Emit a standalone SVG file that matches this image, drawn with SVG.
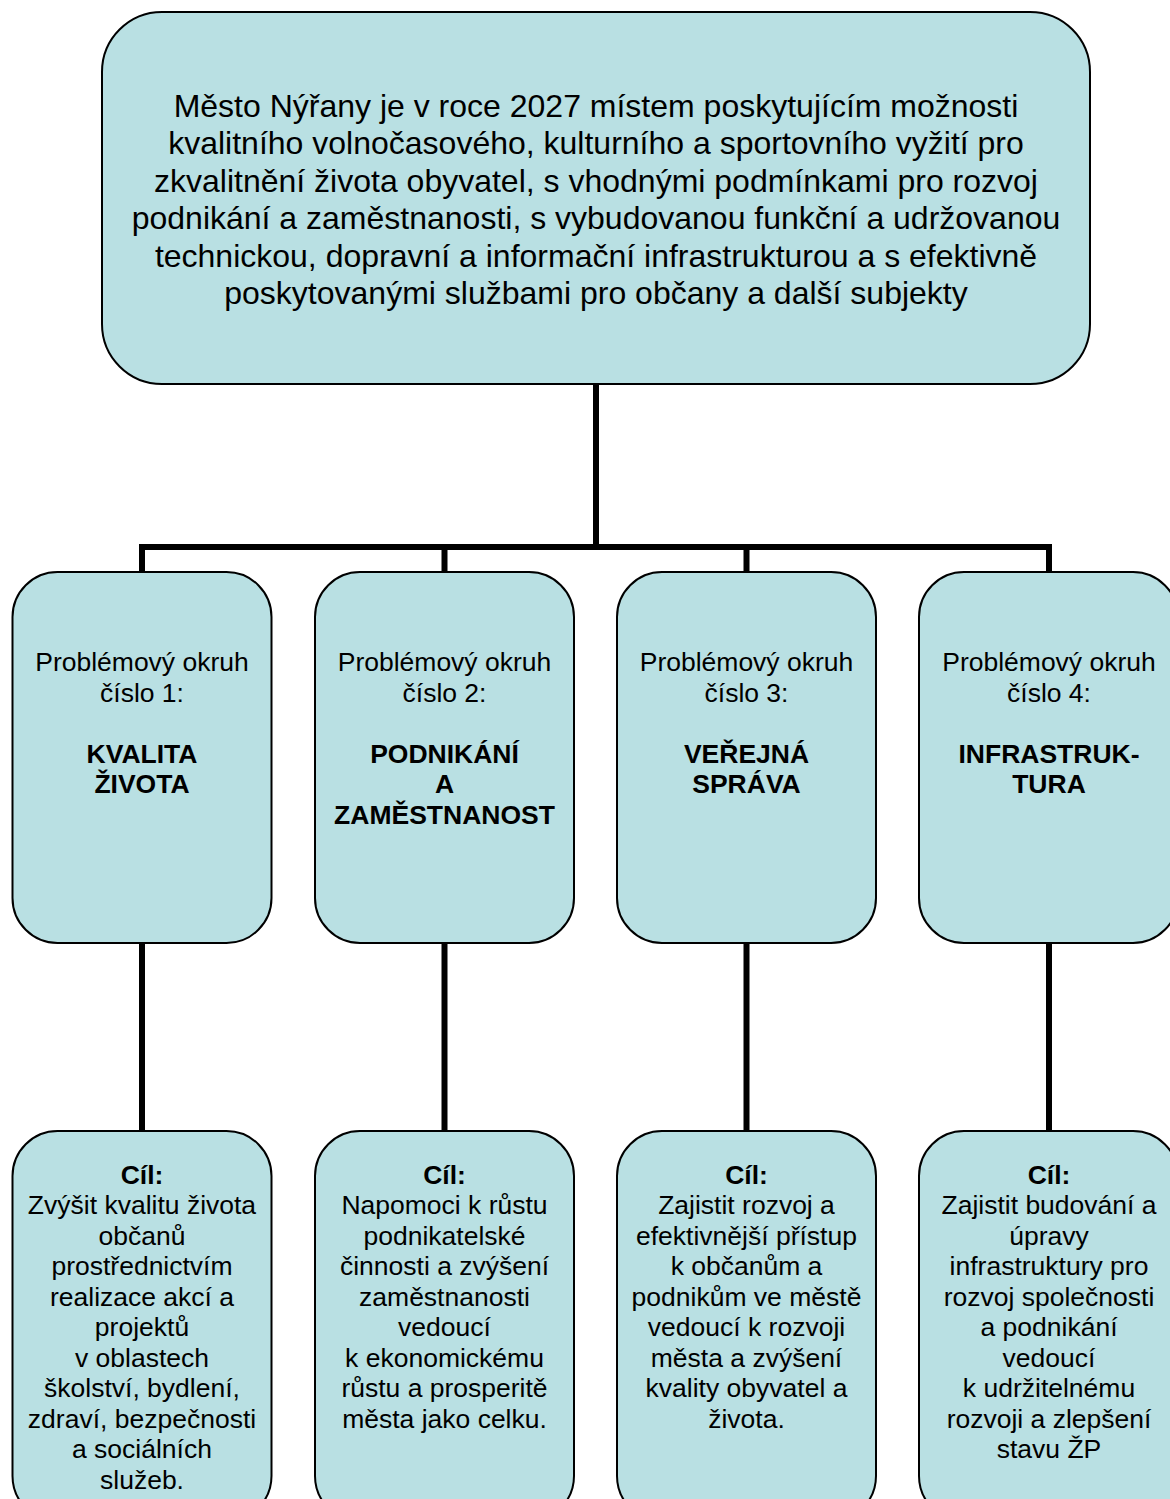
<svg xmlns="http://www.w3.org/2000/svg" width="1170" height="1499" viewBox="0 0 1170 1499">
<style>
.box{fill:#B9E0E3;stroke:#000;stroke-width:2}
.t{font-family:"Liberation Sans",Arial,sans-serif;fill:#000;text-anchor:middle}
.big{font-size:32px}
.mid{font-size:26.5px}
.b{font-weight:bold}
.con{fill:none;stroke:#000;stroke-width:6}
</style>
<rect width="1170" height="1499" fill="#fff"/>
<g id="connectors">
<path class="con" d="M596 384V547"/>
<path class="con" d="M142 547H1049"/>
<path class="con" d="M142 544V572M444.5 544V572M746.5 544V572M1049 544V572"/>
<path class="con" d="M142 943V1131M444.5 943V1131M746.5 943V1131M1049 943V1131"/>
</g>
<g id="vision">
<rect class="box" x="102" y="12" width="988" height="372" rx="60" ry="60"/>
<text class="t big" x="596" y="116.5">Město Nýřany je v roce 2027 místem poskytujícím možnosti</text>
<text class="t big" x="596" y="154">kvalitního volnočasového, kulturního a sportovního vyžití pro</text>
<text class="t big" x="596" y="191.5">zkvalitnění života obyvatel, s vhodnými podmínkami pro rozvoj</text>
<text class="t big" x="596" y="229">podnikání a zaměstnanosti, s vybudovanou funkční a udržovanou</text>
<text class="t big" x="596" y="266.5">technickou, dopravní a informační infrastrukturou a s efektivně</text>
<text class="t big" x="596" y="304">poskytovanými službami pro občany a další subjekty</text>
</g>
<g id="okruh1">
<rect class="box" x="12.5" y="572" width="259" height="371" rx="45" ry="45"/>
<text class="t mid" x="142" y="671">Problémový okruh</text>
<text class="t mid" x="142" y="701.5">číslo 1:</text>
<text class="t mid b" x="142" y="762.5">KVALITA</text>
<text class="t mid b" x="142" y="793">ŽIVOTA</text>
</g>
<g id="okruh2">
<rect class="box" x="315" y="572" width="259" height="371" rx="45" ry="45"/>
<text class="t mid" x="444.5" y="671">Problémový okruh</text>
<text class="t mid" x="444.5" y="701.5">číslo 2:</text>
<text class="t mid b" x="444.5" y="762.5">PODNIKÁNÍ</text>
<text class="t mid b" x="444.5" y="793">A</text>
<text class="t mid b" x="444.5" y="823.5">ZAMĚSTNANOST</text>
</g>
<g id="okruh3">
<rect class="box" x="617" y="572" width="259" height="371" rx="45" ry="45"/>
<text class="t mid" x="746.5" y="671">Problémový okruh</text>
<text class="t mid" x="746.5" y="701.5">číslo 3:</text>
<text class="t mid b" x="746.5" y="762.5">VEŘEJNÁ</text>
<text class="t mid b" x="746.5" y="793">SPRÁVA</text>
</g>
<g id="okruh4">
<rect class="box" x="919" y="572" width="259" height="371" rx="45" ry="45"/>
<text class="t mid" x="1049" y="671">Problémový okruh</text>
<text class="t mid" x="1049" y="701.5">číslo 4:</text>
<text class="t mid b" x="1049" y="762.5">INFRASTRUK-</text>
<text class="t mid b" x="1049" y="793">TURA</text>
</g>
<g id="cil1">
<rect class="box" x="12.5" y="1131" width="259" height="390" rx="45" ry="45"/>
<text class="t mid b" x="142" y="1183.5">Cíl:</text>
<text class="t mid" x="142" y="1214">Zvýšit kvalitu života</text>
<text class="t mid" x="142" y="1244.5">občanů</text>
<text class="t mid" x="142" y="1275">prostřednictvím</text>
<text class="t mid" x="142" y="1305.5">realizace akcí a</text>
<text class="t mid" x="142" y="1336">projektů</text>
<text class="t mid" x="142" y="1366.5">v oblastech</text>
<text class="t mid" x="142" y="1397">školství, bydlení,</text>
<text class="t mid" x="142" y="1427.5">zdraví, bezpečnosti</text>
<text class="t mid" x="142" y="1458">a sociálních</text>
<text class="t mid" x="142" y="1488.5">služeb.</text>
</g>
<g id="cil2">
<rect class="box" x="315" y="1131" width="259" height="390" rx="45" ry="45"/>
<text class="t mid b" x="444.5" y="1183.5">Cíl:</text>
<text class="t mid" x="444.5" y="1214">Napomoci k růstu</text>
<text class="t mid" x="444.5" y="1244.5">podnikatelské</text>
<text class="t mid" x="444.5" y="1275">činnosti a zvýšení</text>
<text class="t mid" x="444.5" y="1305.5">zaměstnanosti</text>
<text class="t mid" x="444.5" y="1336">vedoucí</text>
<text class="t mid" x="444.5" y="1366.5">k ekonomickému</text>
<text class="t mid" x="444.5" y="1397">růstu a prosperitě</text>
<text class="t mid" x="444.5" y="1427.5">města jako celku.</text>
</g>
<g id="cil3">
<rect class="box" x="617" y="1131" width="259" height="390" rx="45" ry="45"/>
<text class="t mid b" x="746.5" y="1183.5">Cíl:</text>
<text class="t mid" x="746.5" y="1214">Zajistit rozvoj a</text>
<text class="t mid" x="746.5" y="1244.5">efektivnější přístup</text>
<text class="t mid" x="746.5" y="1275">k občanům a</text>
<text class="t mid" x="746.5" y="1305.5">podnikům ve městě</text>
<text class="t mid" x="746.5" y="1336">vedoucí k rozvoji</text>
<text class="t mid" x="746.5" y="1366.5">města a zvýšení</text>
<text class="t mid" x="746.5" y="1397">kvality obyvatel a</text>
<text class="t mid" x="746.5" y="1427.5">života.</text>
</g>
<g id="cil4">
<rect class="box" x="919" y="1131" width="259" height="390" rx="45" ry="45"/>
<text class="t mid b" x="1049" y="1183.5">Cíl:</text>
<text class="t mid" x="1049" y="1214">Zajistit budování a</text>
<text class="t mid" x="1049" y="1244.5">úpravy</text>
<text class="t mid" x="1049" y="1275">infrastruktury pro</text>
<text class="t mid" x="1049" y="1305.5">rozvoj společnosti</text>
<text class="t mid" x="1049" y="1336">a podnikání</text>
<text class="t mid" x="1049" y="1366.5">vedoucí</text>
<text class="t mid" x="1049" y="1397">k udržitelnému</text>
<text class="t mid" x="1049" y="1427.5">rozvoji a zlepšení</text>
<text class="t mid" x="1049" y="1458">stavu ŽP</text>
</g>
</svg>
